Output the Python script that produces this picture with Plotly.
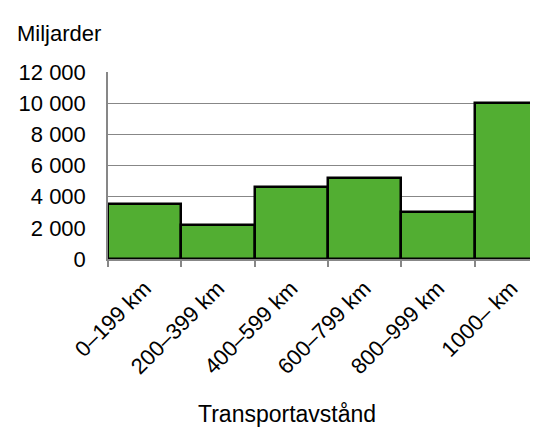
import plotly.graph_objects as go

categories = ["0–199 km", "200–399 km", "400–599 km", "600–799 km", "800–999 km", "1000– km"]
values = [3520, 2200, 4650, 5230, 3020, 10000]
y_tickvals = [0, 2000, 4000, 6000, 8000, 10000, 12000]
y_ticktext = ["0", "2 000", "4 000", "6 000", "8 000", "10 000", "12 000"]
y_title = "Miljarder"
x_title = "Transportavstånd"

FONT = "Liberation Sans, Arial, sans-serif"
OFF = 8  # page body margin
W, H = 538 - OFF, 427 - OFF
ML, MR, MT, MB = 108 - OFF, 0, 72 - OFF, 427 - 259
pw = W - ML - MR
ph = H - MT - MB

fig = go.Figure(go.Bar(
    x=list(range(len(categories))),
    y=values,
    marker=dict(color="#52AE32", line=dict(color="#000000", width=2.5)),
    width=1.0,
))

fig.update_layout(
    width=W, height=H,
    margin=dict(l=ML, r=MR, t=MT, b=MB, pad=0),
    paper_bgcolor="white", plot_bgcolor="white",
    font=dict(family=FONT, size=22, color="#000000"),
    bargap=0,
    showlegend=False,
)

fig.update_xaxes(
    type="linear",
    range=[-0.5, -0.5 + pw / 73.3],
    tickmode="array",
    tickvals=list(range(len(categories))),
    ticktext=categories,
    tickangle=-45,
    showgrid=False,
    showline=True, linecolor="#878787", linewidth=1.5,
    ticks="",
    zeroline=False,
    ticklabelstandoff=6,
    tickfont=dict(size=22),
    minor=dict(tickmode="array", tickvals=[i - 0.5 for i in range(len(categories) + 1)],
               ticks="outside", ticklen=6, tickcolor="#878787", tickwidth=1.5, showgrid=False),
)

fig.update_yaxes(
    range=[0, 12000],
    tickmode="array",
    tickvals=y_tickvals,
    ticktext=y_ticktext,
    showgrid=True, gridcolor="#878787", gridwidth=1.2,
    showline=True, linecolor="#878787", linewidth=1.5,
    zeroline=False,
    ticks="",
    ticklabelstandoff=16,
    tickfont=dict(size=22),
)

fig.add_annotation(
    text=y_title, xref="paper", yref="paper",
    x=(15 - 108) / pw, y=1 + (72 - 33) / ph,
    xanchor="left", yanchor="middle", showarrow=False,
    font=dict(size=22, family=FONT),
)
fig.add_annotation(
    text=x_title, xref="paper", yref="paper",
    x=(287 - 108) / pw, y=-(414 - 259) / ph,
    xanchor="center", yanchor="middle", showarrow=False,
    font=dict(size=23, family=FONT),
)

fig.write_html("out.html")
